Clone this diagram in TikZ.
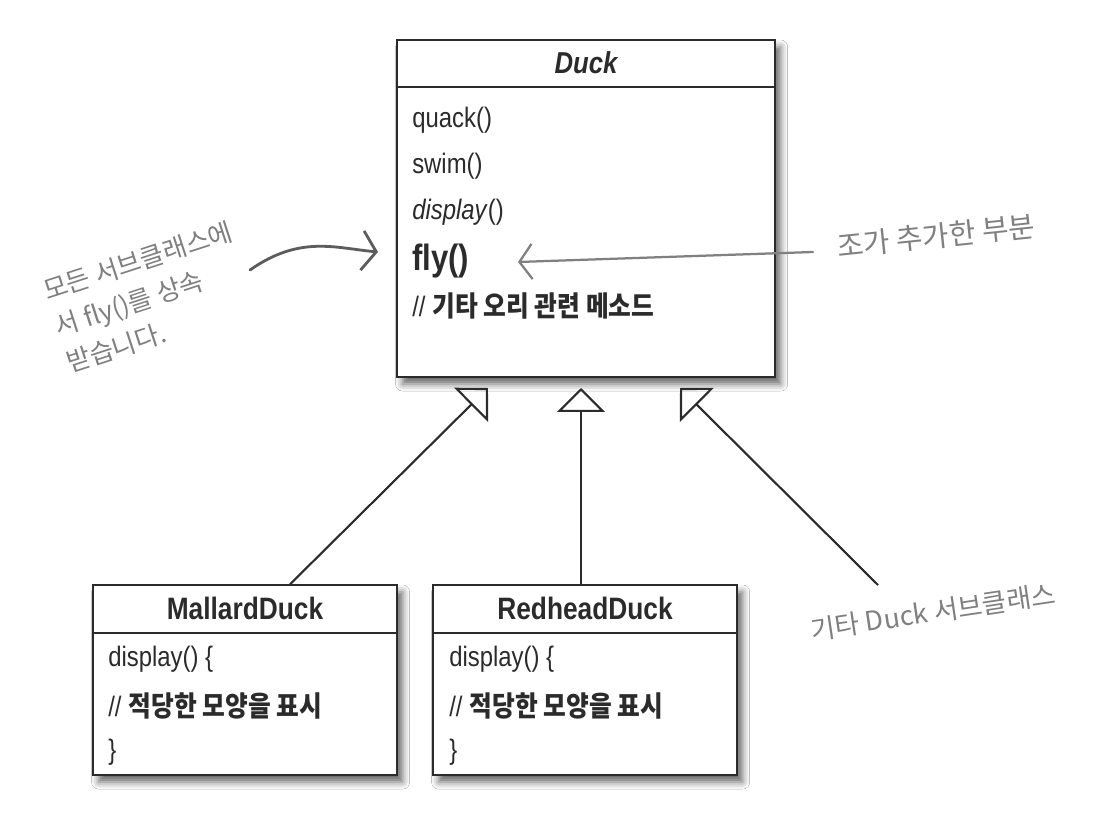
\documentclass[tikz,border=0pt]{standalone}
\usepackage{fontspec}
\setmainfont{Liberation Sans}[FakeStretch=0.85]
\newfontfamily\kr{Noto Sans CJK KR}[FakeStretch=0.88]
\newfontfamily\hand{Noto Sans CJK KR}
\usetikzlibrary{arrows.meta,fit,shadows.blur,positioning}

\definecolor{ink}{HTML}{2B2B2B}
\definecolor{pencil}{HTML}{808080}
\definecolor{pencildark}{HTML}{5C5C5C}

\newcommand{\slashes}{{\normalfont\fontsize{20}{24}\selectfont//}\hspace{5pt}}

\tikzset{
  umlbox/.style={draw=ink, line width=1pt, fill=white, inner sep=0pt,
    blur shadow={shadow xshift=4pt, shadow yshift=-5pt, shadow blur radius=5pt, shadow opacity=60}},
  member/.style={anchor=west, inner sep=0pt, text=ink, font=\fontsize{20}{24}\selectfont},
  comment/.style={member, font=\kr\bfseries\fontsize{20}{24}\selectfont},
  classname/.style={inner sep=0pt, text=ink, font=\bfseries\fontsize{22}{26}\selectfont},
  inherit/.style={draw=ink, line width=1.5pt, -{Triangle[open, length=17pt, width=34pt]}},
  note/.style={text=pencil, inner sep=0pt},
}

\begin{document}
\begin{tikzpicture}[x=0.025cm, y=-0.025cm]
\fill[white] (0,0) rectangle (1114,822);
\useasboundingbox (0,0) rectangle (1114,822);

% classes
\node[umlbox, fit={(397,40) (775,377)}] (duck) {};
\draw[ink, line width=1pt] (duck.west |- 0,87) -- (duck.east |- 0,87);
\node[umlbox, fit={(93,585) (397,775)}] (mallard) {};
\draw[ink, line width=1pt] (mallard.west |- 0,633) -- (mallard.east |- 0,633);
\node[umlbox, fit={(433,585) (737,775)}] (redhead) {};
\draw[ink, line width=1pt] (redhead.west |- 0,633) -- (redhead.east |- 0,633);

\node[classname, font=\bfseries\itshape\fontsize{21.5}{26}\selectfont] (duckname) at (586,63) {Duck};
\node[member] (quack) at (412,120) {quack()};
\node[member] (swim) at (412,166) {swim()};
\node[member] (display) at (412,212) {\textit{display}()};
\node[member, font=\bfseries\fontsize{26}{30}\selectfont] (fly) at (412,261) {fly()};
\node[comment] (others) at (412,306) {\slashes 기타 오리 관련 메소드};

\node[classname] (mallardname) at (245,608) {MallardDuck};
\node[member] (mdisplay) at (108,659) {display() \{};
\node[comment] (mshow) at (108,706) {\slashes 적당한 모양을 표시};
\node[member] (mend) at (108,752) {\}};

\node[classname] (redheadname) at (585,608) {RedheadDuck};
\node[member] (rdisplay) at (449,659) {display() \{};
\node[comment] (rshow) at (449,706) {\slashes 적당한 모양을 표시};
\node[member] (rend) at (449,752) {\}};

% inheritance
\coordinate (tipM) at (488,388);
\coordinate (tipR) at (581,388);
\coordinate (tipO) at (680,388);
\coordinate (otherend) at (878,585);
\draw[inherit] (mallard.north -| 290,0) -- (tipM);
\draw[inherit] (redhead.north -| 581,0) -- (tipR);
\draw[inherit] (otherend) -- (tipO);

% notes
\node[note, rotate=18, anchor=north west, align=left,
  font=\hand\fontsize{18.5}{27}\selectfont] (inheritnote) at (40,280)
  {모든 서브클래스에\\서 fly()를 상속\\받습니다.};
\coordinate (lstart) at (250,270);
\coordinate (ltip) at (378,252);
\draw[pencildark, line width=2pt, line cap=round, -{Straight Barb[length=10pt, width=28pt]}]
  (lstart) .. controls (300,235) and (335,248) .. (ltip);

\node[note, rotate=6, font=\hand\fontsize{20.5}{24}\selectfont] (addnote) at (936,236) {조가 추가한 부분};
\coordinate (rstart) at (813,252);
\coordinate (rtip) at (518,262);
\draw[pencil, line width=1.6pt, line cap=round, -{Straight Barb[length=9pt, width=25pt]}]
  (rstart) -- (rtip);

\node[note, rotate=8.5, font=\hand\fontsize{19}{22}\selectfont] (othernote) at (933,612) {기타 Duck 서브클래스};
\end{tikzpicture}
\end{document}
